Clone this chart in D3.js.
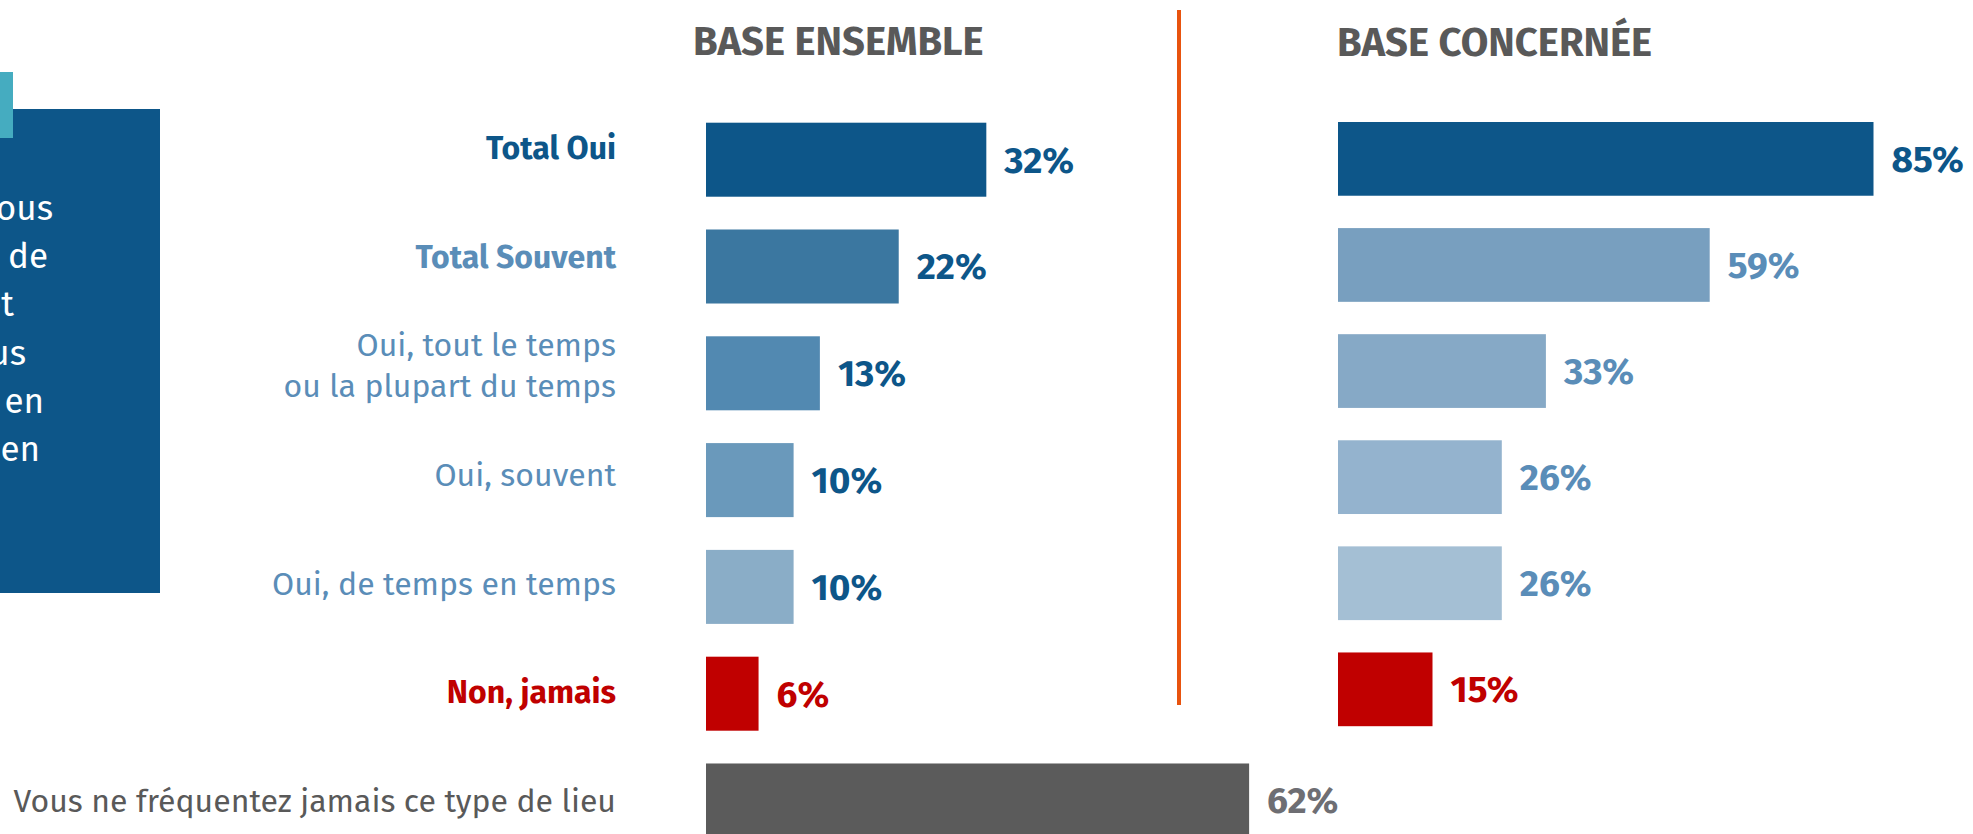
<!DOCTYPE html>
<html><head><meta charset="utf-8">
<script src="https://cdn.jsdelivr.net/npm/d3@7"></script>
<style>html,body{margin:0;padding:0;background:#fff;overflow:hidden}svg{display:block}text{font-family:"Fira Sans",Lato,"Open Sans",sans-serif}</style>
</head><body>
<svg id="chart" width="1973" height="834"></svg>
<script>
// ---- data ----
const categories = ["Total Oui","Total Souvent","Oui, tout le temps|ou la plupart du temps","Oui, souvent","Oui, de temps en temps","Non, jamais","Vous ne fréquentez jamais ce type de lieu"];
const ensembleValues = [32,22,13,10,10,6,62];
const concerneeValues = [85,59,33,26,26,15];
const panelTitles = ["BASE ENSEMBLE","BASE CONCERNÉE"];
const questionLines = ["Vous arrive-t-il, à vous","personnellement, de","vous sentir mal à l'aise et","en insécurité lorsque vous","vous trouvez dans ce lieu en","soirée ou la nuit, même en"];

// ---- styles ----
const labelStyle = [
  {fill:"#0D5689",weight:700},{fill:"#5A8DB8",weight:700},{fill:"#5A8DB8",weight:400},
  {fill:"#5A8DB8",weight:400},{fill:"#5A8DB8",weight:400},{fill:"#C00000",weight:700},{fill:"#595959",weight:400}];
const leftFill = ["#0D5689","#3B77A0","#5289B1","#6A99BB","#8AADC7","#C00000","#5B5B5B"];
const rightFill = ["#0D5689","#789FBF","#86A9C6","#94B3CE","#A4BFD4","#C00000"];
const leftValColor = ["#0D5689","#0D5689","#0D5689","#0D5689","#0D5689","#C00000","#6E6E73"];
const rightValColor = ["#0D5689","#5A8DB8","#5A8DB8","#5A8DB8","#5A8DB8","#C00000"];

const svg = d3.select("#chart");

// question box (cropped at left, as in the reference)
svg.append("rect").attr("x",0).attr("y",109).attr("width",160).attr("height",484).attr("fill","#0D5689");
svg.append("rect").attr("x",0).attr("y",72).attr("width",13).attr("height",66).attr("fill","#45ACC0");
const qEnds = [53,48,14,26,44,40];
const qY = d3.scaleLinear().domain([0,5]).range([220,461]);
svg.append("g").selectAll("text").data(questionLines).join("text")
  .attr("x",(d,i)=>qEnds[i]).attr("y",(d,i)=>qY(i)).attr("text-anchor","end")
  .attr("fill","#fff").attr("font-size",35).text(d=>d);

// scales
const xL = d3.scaleLinear().domain([0,100]).range([706,706+876]);
const xR = d3.scaleLinear().domain([0,100]).range([1338,1338+630]);
const yL = d3.scaleBand().domain(d3.range(7)).range([122.7,837.5]).paddingInner(0.307).paddingOuter(0);
const yR = d3.scaleBand().domain(d3.range(6)).range([122,726.2]).paddingInner(0.305).paddingOuter(0);
const yLab = d3.scalePoint().domain(d3.range(7)).range([148,801]);

// titles
svg.append("text").attr("x",693).attr("y",54.5).attr("fill","#595959").attr("font-size",40).attr("font-weight",700).text(panelTitles[0]);
svg.append("text").attr("x",1337).attr("y",56).attr("fill","#595959").attr("font-size",40).attr("font-weight",700).text(panelTitles[1]);

// divider
svg.append("line").attr("x1",1179).attr("x2",1179).attr("y1",10).attr("y2",705).attr("stroke","#E8530E").attr("stroke-width",4);

// category labels
const lab = svg.append("g").selectAll("text").data(categories).join("text")
  .attr("text-anchor","end").attr("font-size",32)
  .attr("fill",(d,i)=>labelStyle[i].fill).attr("font-weight",(d,i)=>labelStyle[i].weight)
  .attr("transform",(d,i)=>`translate(616,${yLab(i)})`);
lab.each(function(d){
  const parts=d.split("|"); const t=d3.select(this);
  parts.forEach((p,k)=>t.append("tspan").attr("x",0).attr("y",(k-(parts.length-1)/2)*41).attr("dy","0.35em").text(p));
});

// left bars
svg.append("g").selectAll("rect").data(ensembleValues).join("rect")
  .attr("x",xL(0)).attr("y",(d,i)=>yL(i)).attr("width",d=>xL(d)-xL(0)).attr("height",yL.bandwidth())
  .attr("fill",(d,i)=>leftFill[i]);
svg.append("g").selectAll("text").data(ensembleValues).join("text")
  .attr("x",d=>xL(d)+18).attr("y",(d,i)=>yL(i)+yL.bandwidth()/2).attr("dy","0.35em")
  .attr("font-size",37).attr("font-weight",700).attr("fill",(d,i)=>leftValColor[i]).text(d=>d+"%");

// right bars
svg.append("g").selectAll("rect").data(concerneeValues).join("rect")
  .attr("x",xR(0)).attr("y",(d,i)=>yR(i)).attr("width",d=>xR(d)-xR(0)).attr("height",yR.bandwidth())
  .attr("fill",(d,i)=>rightFill[i]);
svg.append("g").selectAll("text").data(concerneeValues).join("text")
  .attr("x",d=>xR(d)+18).attr("y",(d,i)=>yR(i)+yR.bandwidth()/2).attr("dy","0.35em")
  .attr("font-size",37).attr("font-weight",700).attr("fill",(d,i)=>rightValColor[i]).text(d=>d+"%");
</script>
</body></html>
